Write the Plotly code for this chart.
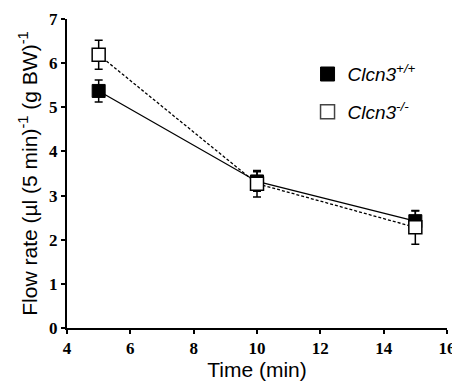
import plotly.graph_objects as go

time_min = [5, 10, 15]
wt_flow = [5.37, 3.32, 2.42]
wt_err = [0.25, 0.22, 0.23]
ko_flow = [6.19, 3.27, 2.28]
ko_err = [0.33, 0.30, 0.38]
wt_name = "<i>Clcn3</i><sup><i>+/+</i></sup>"
ko_name = "<i>Clcn3</i><sup><i>-/-</i></sup>"
x_ticks = [4, 6, 8, 10, 12, 14, 16]
y_ticks = [0, 1, 2, 3, 4, 5, 6, 7]

serif = "Liberation Serif"
sans = "Liberation Sans, Arial, sans-serif"

fig = go.Figure()
fig.add_trace(go.Scatter(
    x=time_min, y=wt_flow, name=wt_name, mode="lines+markers",
    line=dict(color="black", width=1.3, dash="solid"),
    marker=dict(symbol="square", size=13, color="black", line=dict(color="black", width=1)),
    error_y=dict(type="data", array=wt_err, color="black", thickness=1.5, width=4),
    showlegend=False,
))
fig.add_trace(go.Scatter(
    x=time_min, y=ko_flow, name=ko_name, mode="lines+markers",
    line=dict(color="black", width=1.3, dash="3px,2px"),
    marker=dict(symbol="square", size=13, color="white", line=dict(color="black", width=1.5)),
    error_y=dict(type="data", array=ko_err, color="black", thickness=1.5, width=4),
    showlegend=False,
))
# legend entries (markers only)
fig.add_trace(go.Scatter(
    x=[None], y=[None], name=wt_name, mode="markers",
    marker=dict(symbol="square", size=14, color="black", line=dict(color="black", width=1)),
    legendgroup="a",
))
fig.add_trace(go.Scatter(
    x=[None], y=[None], name=ko_name, mode="markers",
    marker=dict(symbol="square", size=14, color="white", line=dict(color="#444", width=1.5)),
    legendgroup="b",
))

tick_font = dict(family=serif, size=17, color="black", weight="bold")
fig.update_layout(
    width=452, height=377,
    margin=dict(l=59, r=13, t=11, b=57, autoexpand=False),
    plot_bgcolor="white", paper_bgcolor="white",
    showlegend=True,
    legend=dict(x=0.633, y=0.883, xanchor="left", yanchor="top",
                font=dict(family=sans, size=19, color="black"),
                bgcolor="rgba(0,0,0,0)", tracegroupgap=10, itemwidth=30),
    xaxis=dict(range=[4, 16], tickvals=x_ticks,
               showline=True, linecolor="black", linewidth=2, automargin=False,
               ticks="outside", ticklen=4, tickwidth=2, tickcolor="black",
               showgrid=False, zeroline=False, tickfont=tick_font,
               title=dict(text="Time (min)", font=dict(family=sans, size=21, color="black"), standoff=4)),
    yaxis=dict(range=[0, 7], tickvals=y_ticks,
               showline=True, linecolor="black", linewidth=2, automargin=False,
               ticks="outside", ticklen=4, tickwidth=2, tickcolor="black",
               showgrid=False, zeroline=False, tickfont=tick_font,
               title=dict(text="Flow rate (µl (5 min)<sup>-1</sup> (g BW)<sup>-1</sup>",
                          font=dict(family=sans, size=21, color="black"), standoff=6)),
)

fig.write_html("out.html")
